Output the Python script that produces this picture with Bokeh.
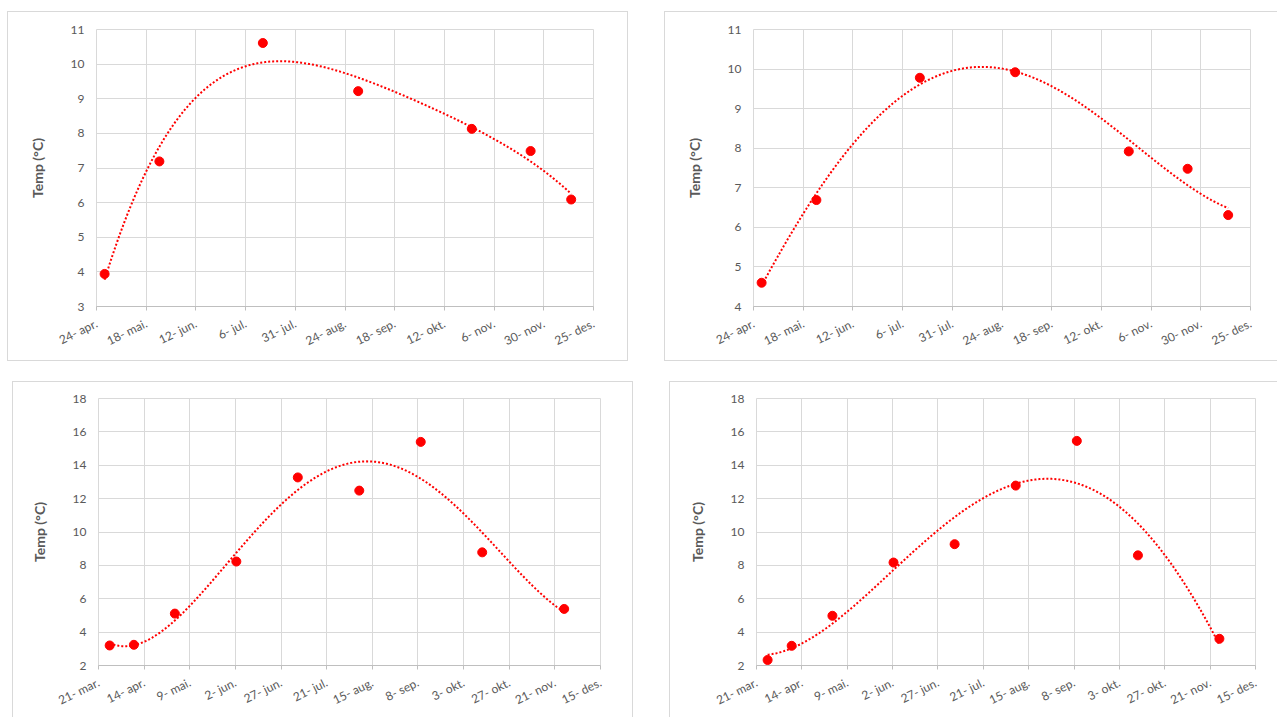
import math
import numpy as np
from bokeh.plotting import figure
from bokeh.models import Range1d, FixedTicker, Spacer
from bokeh.layouts import column, row
from bokeh.embed import file_html
from bokeh.resources import INLINE

# --- data -------------------------------------------------------------
TICK_STEP = 24.5  # days between date-axis ticks
TREND_ORDER = 4   # polynomial trendline order

top_start = "2018-04-24"
top_ticks = ["24- apr.", "18- mai.", "12- jun.", "6- jul.", "31- jul.", "24- aug.",
             "18- sep.", "12- okt.", "6- nov.", "30- nov.", "25- des."]
top_dates = ["2018-04-28", "2018-05-25", "2018-07-15", "2018-08-31",
             "2018-10-26", "2018-11-24", "2018-12-14"]
temp_a = [3.94, 7.19, 10.61, 9.22, 8.13, 7.49, 6.09]
temp_b = [4.60, 6.69, 9.78, 9.92, 7.92, 7.48, 6.31]

bottom_start = "2018-03-21"
bottom_ticks = ["21- mar.", "14- apr.", "9- mai.", "2- jun.", "27- jun.", "21- jul.",
                "15- aug.", "8- sep.", "3- okt.", "27- okt.", "21- nov.", "15- des."]
bottom_dates = ["2018-03-27", "2018-04-09", "2018-05-01", "2018-06-03", "2018-07-06",
                "2018-08-08", "2018-09-10", "2018-10-13", "2018-11-26"]
temp_c = [3.20, 3.24, 5.11, 8.23, 13.27, 12.48, 15.40, 8.78, 5.39]
temp_d = [2.33, 3.18, 4.98, 8.17, 9.27, 12.78, 15.46, 8.60, 3.60]

FONT = "Lato"
TEXT = "#595959"
GRID = "#d9d9d9"
AXIS = "#bfbfbf"
RED = "#ff0000"


def panel(dates, temps, start, tick_labels, y_lo, y_hi, y_step,
          width, height, left, right, top, bottom):
    x = (np.array(dates, dtype="datetime64[D]") - np.datetime64(start, "D")).astype(float)
    y = np.array(temps)
    xticks = [i * TICK_STEP for i in range(len(tick_labels))]
    yticks = list(range(y_lo, y_hi + 1, y_step))

    p = figure(width=width, height=height, output_backend="svg", toolbar_location=None,
               x_range=Range1d(xticks[0], xticks[-1]), y_range=Range1d(y_lo, y_hi),
               min_border_left=left, min_border_right=right,
               min_border_top=top, min_border_bottom=bottom,
               background_fill_color="white", border_fill_color="white")
    p.outline_line_color = GRID
    p.styles = {"box-shadow": "0 0 0 1px #d9d9d9"}

    p.xaxis.ticker = FixedTicker(ticks=xticks)
    p.xaxis.major_label_overrides = {float(t): s for t, s in zip(xticks, tick_labels)}
    p.xaxis.major_label_orientation = math.radians(26)
    p.xaxis.axis_line_color = AXIS
    p.xaxis.major_tick_line_color = AXIS
    p.xaxis.major_tick_out = 4
    p.xaxis.major_tick_in = 0
    p.xaxis.minor_tick_line_color = None
    p.xaxis.major_label_standoff = 12

    p.yaxis.ticker = FixedTicker(ticks=yticks)
    p.yaxis.axis_line_color = None
    p.yaxis.major_tick_line_color = None
    p.yaxis.major_tick_out = 0
    p.yaxis.major_tick_in = 0
    p.yaxis.minor_tick_line_color = None
    p.yaxis.major_label_standoff = 12
    p.yaxis.axis_label = "Temp (°C)"
    p.yaxis.axis_label_text_font = FONT
    p.yaxis.axis_label_text_font_size = "14px"
    p.yaxis.axis_label_text_font_style = "bold"
    p.yaxis.axis_label_text_color = TEXT
    p.yaxis.axis_label_standoff = 22

    for ax in (p.xaxis, p.yaxis):
        ax.major_label_text_font = FONT
        ax.major_label_text_font_size = "12px"
        ax.major_label_text_color = TEXT

    p.grid.grid_line_color = GRID
    p.grid.grid_line_width = 1

    # polynomial trendline over the sampled period
    xs = np.linspace(x.min(), x.max(), 300)
    coeffs = np.polyfit(x, y, TREND_ORDER)
    p.line(xs, np.polyval(coeffs, xs), color=RED, line_width=2, line_dash="2 2")
    p.scatter(x, y, size=9, color=RED)
    return p


p1 = panel(top_dates, temp_a, top_start, top_ticks, 3, 11, 1, 619, 348, 88, 34, 17, 54)
p2 = panel(top_dates, temp_b, top_start, top_ticks, 4, 11, 1, 612, 348, 88, 27, 17, 54)
p3 = panel(bottom_dates, temp_c, bottom_start, bottom_ticks, 2, 18, 2, 619, 335, 85, 32, 16, 47)
p4 = panel(bottom_dates, temp_d, bottom_start, bottom_ticks, 2, 18, 2, 607, 335, 86, 22, 16, 48)

layout = column(
    Spacer(height=12),
    row(Spacer(width=8), p1, Spacer(width=38), p2),
    Spacer(height=22),
    row(Spacer(width=13), p3, Spacer(width=38), p4),
)

open("out.html", "w").write(file_html(layout, INLINE))
